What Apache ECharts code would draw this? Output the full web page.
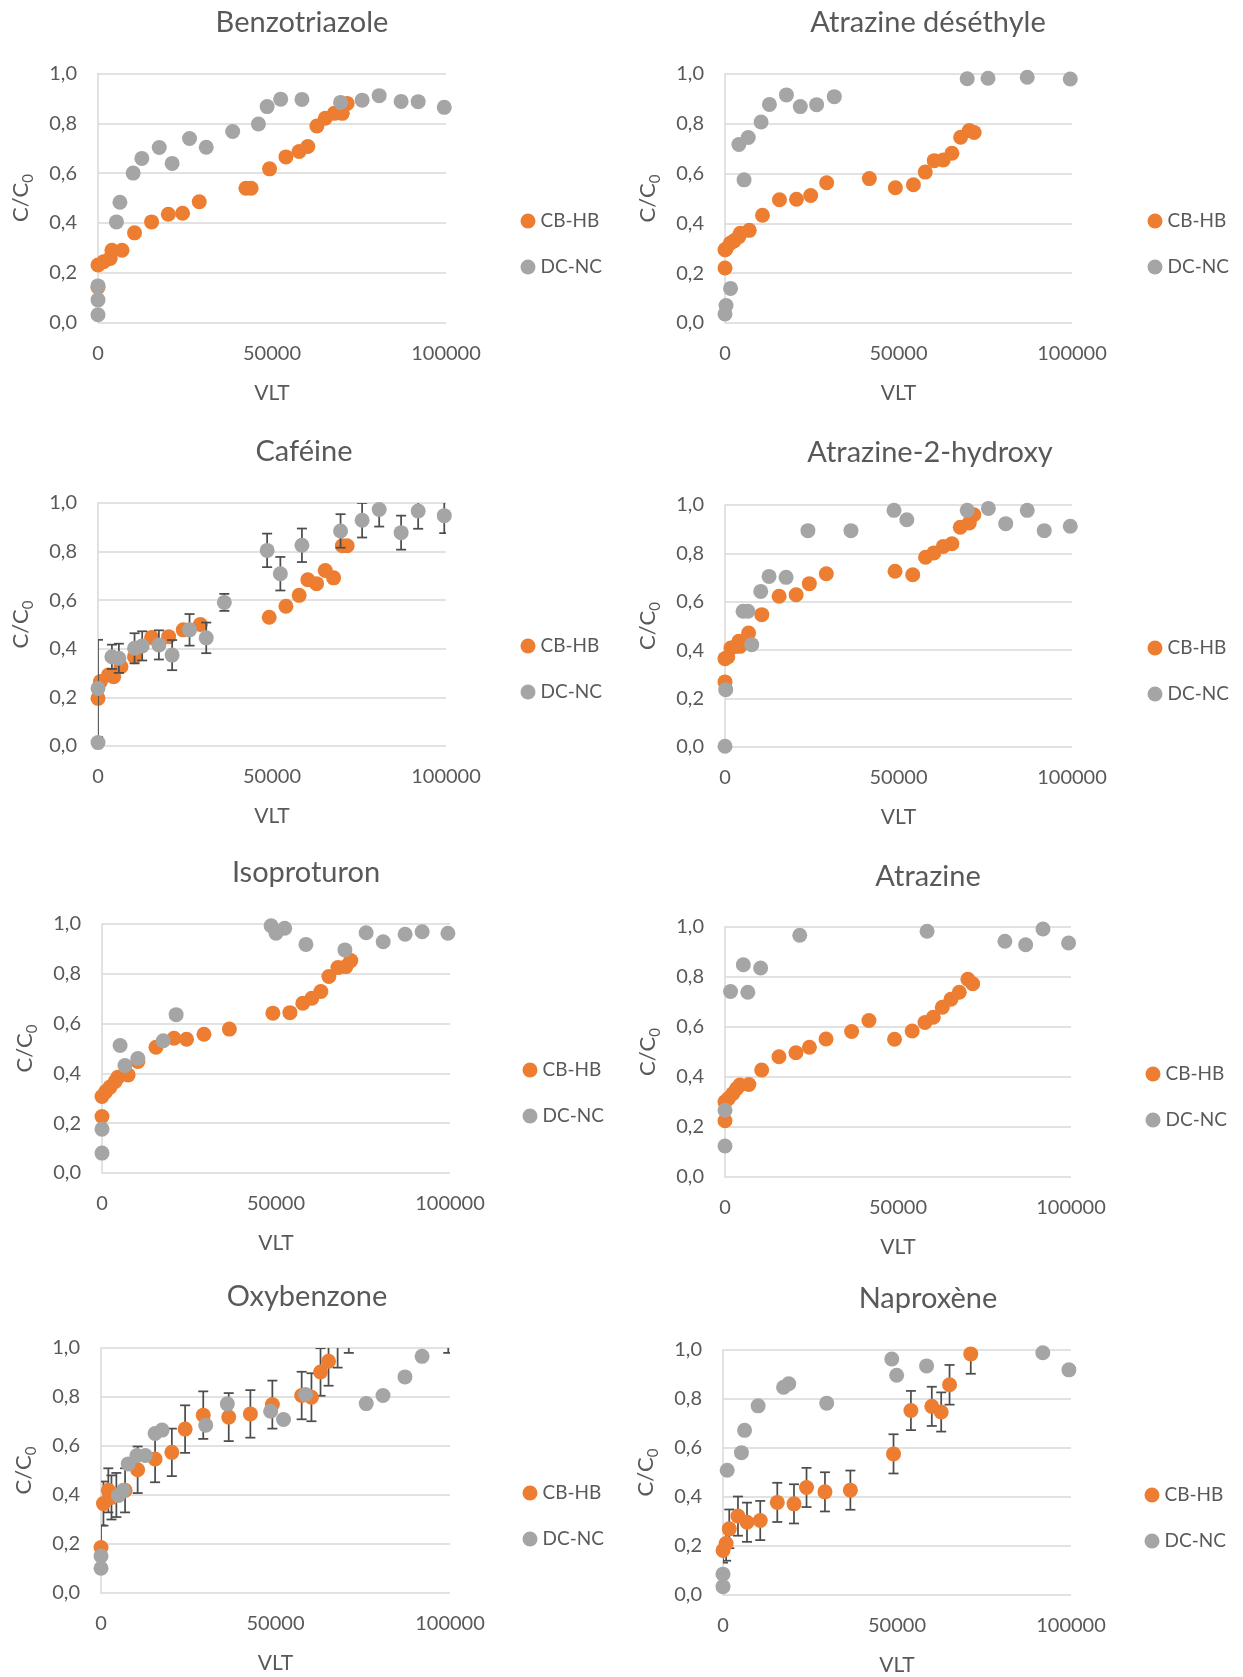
<!DOCTYPE html>
<html>
<head>
<meta charset="utf-8">
<script src="https://cdn.jsdelivr.net/npm/echarts@6/dist/echarts.min.js"></script>
<style>
    html, body {margin: 0; padding: 0; background: #fff;}
    #chart {width: 1243px; height: 1677px;}
</style>
</head>
<body>
<div id="chart"></div>
<script>
var titles = ['Benzotriazole', 'Atrazine déséthyle', 'Caféine', 'Atrazine-2-hydroxy',
    'Isoproturon', 'Atrazine', 'Oxybenzone', 'Naproxène'];
var seriesNames = ['CB-HB', 'DC-NC'];
var xTicks = [0, 50000, 100000];
var yTicks = [0, 0.2, 0.4, 0.6, 0.8, 1.0];

// [VLT, C/C0]
var benzotriazoleCB = [[0, 0.142], [0, 0.231], [1600, 0.244], [3500, 0.257], [4000, 0.29], [6900, 0.29],
    [10500, 0.36], [15400, 0.404], [20200, 0.435], [24300, 0.439], [29100, 0.485], [42500, 0.539],
    [44000, 0.539], [49300, 0.617], [54000, 0.665], [57800, 0.687], [60300, 0.707], [62900, 0.789],
    [65300, 0.82], [67900, 0.84], [70200, 0.84], [71600, 0.88]];
var benzotriazoleDC = [[0, 0.031], [0, 0.091], [0, 0.147], [5300, 0.404], [6300, 0.483], [10100, 0.60],
    [12600, 0.659], [17600, 0.703], [21300, 0.639], [26300, 0.739], [31100, 0.704], [38700, 0.767],
    [46100, 0.797], [48600, 0.867], [52500, 0.897], [58600, 0.896], [69700, 0.884], [75900, 0.893],
    [80800, 0.911], [87100, 0.888], [92000, 0.887], [99500, 0.864]];

var desethylCB = [[0, 0.221], [0, 0.294], [300, 0.297], [1500, 0.32], [2600, 0.33], [4000, 0.347],
    [4400, 0.36], [7000, 0.372], [10800, 0.433], [15700, 0.495], [20600, 0.497], [24700, 0.512],
    [29300, 0.563], [41600, 0.58], [49100, 0.543], [54300, 0.555], [57700, 0.606], [60300, 0.652],
    [62900, 0.655], [65400, 0.682], [67900, 0.746], [70400, 0.773], [71800, 0.765]];
var desethylDC = [[0, 0.036], [300, 0.07], [1600, 0.139], [4000, 0.717], [5500, 0.575], [6700, 0.745],
    [10400, 0.807], [12800, 0.878], [17700, 0.916], [21700, 0.869], [26400, 0.877], [31500, 0.909],
    [69800, 0.981], [75800, 0.983], [87100, 0.987], [99500, 0.98]];

var cafeineCB = [[0, 0.196], [700, 0.265], [3000, 0.292], [4500, 0.285], [6600, 0.326], [10500, 0.367],
    [15400, 0.447], [20300, 0.45], [24500, 0.478], [29400, 0.50], [49200, 0.53], [54000, 0.575],
    [57800, 0.62], [60300, 0.684], [62800, 0.668], [65300, 0.722], [67700, 0.692], [70200, 0.824],
    [71600, 0.824]];
// [VLT, C/C0, erreur]
var cafeineDC = [[0, 0.014, 0], [0, 0.237, 0.2], [4000, 0.367, 0.05], [6000, 0.361, 0.06],
    [10500, 0.402, 0.062], [12700, 0.412, 0.06], [17500, 0.416, 0.06], [21300, 0.374, 0.062],
    [26300, 0.478, 0.065], [31100, 0.445, 0.063], [36300, 0.591, 0.035], [48600, 0.805, 0.069],
    [52400, 0.709, 0.069], [58600, 0.826, 0.069], [69700, 0.885, 0.069], [75900, 0.929, 0.071],
    [80800, 0.973, 0.07], [87100, 0.878, 0.07], [92000, 0.967, 0.073], [99500, 0.948, 0.072]];

var hydroxyCB = [[0, 0.269], [0, 0.365], [800, 0.372], [1700, 0.409], [3100, 0.416], [4000, 0.437],
    [4300, 0.416], [6800, 0.471], [10600, 0.547], [15600, 0.623], [20500, 0.629], [24300, 0.675],
    [29200, 0.716], [49000, 0.726], [54100, 0.712], [57800, 0.784], [60200, 0.802], [62900, 0.829],
    [65400, 0.84], [67800, 0.908], [70400, 0.926], [71700, 0.96]];
var hydroxyDC = [[0, 0.003], [200, 0.237], [5200, 0.561], [6600, 0.561], [7700, 0.423], [10300, 0.643],
    [12700, 0.705], [17600, 0.701], [23900, 0.894], [36300, 0.894], [48700, 0.978], [52400, 0.939],
    [69800, 0.978], [75900, 0.986], [80900, 0.923], [87100, 0.978], [92000, 0.894], [99500, 0.912]];

var isoproturonCB = [[0, 0.227], [0, 0.307], [1100, 0.327], [2300, 0.345], [3800, 0.368], [4600, 0.385],
    [7500, 0.394], [10300, 0.448], [15500, 0.505], [20700, 0.541], [24300, 0.537], [29300, 0.557],
    [36600, 0.578], [49100, 0.642], [54000, 0.644], [57700, 0.682], [60300, 0.702], [62900, 0.729],
    [65200, 0.789], [67800, 0.825], [70100, 0.829], [71500, 0.853]];
var isoproturonDC = [[0, 0.08], [0, 0.176], [5200, 0.512], [6600, 0.432], [10300, 0.46], [17600, 0.531],
    [21300, 0.636], [48600, 0.993], [50000, 0.963], [52500, 0.983], [58600, 0.918], [69800, 0.896],
    [75900, 0.965], [80800, 0.929], [87100, 0.959], [92000, 0.969], [99400, 0.963]];

var atrazineCB = [[0, 0.225], [0, 0.301], [1000, 0.314], [2300, 0.334], [3400, 0.354], [4300, 0.368],
    [6900, 0.37], [10600, 0.428], [15600, 0.481], [20500, 0.497], [24400, 0.519], [29200, 0.552],
    [36600, 0.582], [41600, 0.626], [49000, 0.551], [54100, 0.584], [57800, 0.618], [60200, 0.639],
    [62800, 0.679], [65300, 0.711], [67700, 0.739], [70200, 0.791], [71600, 0.773]];
var atrazineDC = [[0, 0.124], [0, 0.267], [1600, 0.742], [5300, 0.849], [6600, 0.739], [10300, 0.836],
    [21600, 0.967], [58400, 0.983], [80900, 0.943], [86900, 0.929], [91900, 0.992], [99300, 0.936]];

var oxybenzoneCB = [[0, 0.186, 0.09], [700, 0.365, 0.09], [2100, 0.419, 0.09], [3000, 0.39, 0.09],
    [4400, 0.40, 0.09], [6900, 0.419, 0.09], [10500, 0.503, 0.095], [15500, 0.547, 0.095],
    [20300, 0.574, 0.097], [24100, 0.669, 0.097], [29300, 0.726, 0.097], [36600, 0.718, 0.098],
    [42800, 0.731, 0.097], [49100, 0.769, 0.098], [57500, 0.806, 0.097], [60300, 0.799, 0.098],
    [62900, 0.902, 0.097], [65200, 0.946, 0.1], [67800, 1.02, 0.1], [71000, 1.08, 0.1]];
var oxybenzoneDC = [[0, 0.101, 0], [0, 0.151, 0], [5000, 0.398, 0], [6400, 0.419, 0], [7800, 0.527, 0],
    [10300, 0.561, 0], [12700, 0.561, 0], [15500, 0.651, 0], [17500, 0.665, 0], [30000, 0.685, 0],
    [36200, 0.772, 0], [48600, 0.742, 0], [52300, 0.708, 0], [58600, 0.81, 0], [76000, 0.773, 0],
    [80800, 0.806, 0], [87100, 0.882, 0], [92000, 0.966, 0], [99500, 1.05, 0.07]];

var naproxeneCB = [[0, 0.182, 0.05], [900, 0.21, 0.07], [1800, 0.27, 0.079], [4300, 0.322, 0.08],
    [6900, 0.297, 0.08], [10700, 0.304, 0.08], [15600, 0.378, 0.08], [20400, 0.372, 0.08],
    [24000, 0.439, 0.08], [29300, 0.421, 0.08], [36600, 0.428, 0.08], [49000, 0.576, 0.08],
    [54000, 0.753, 0.08], [60000, 0.77, 0.08], [62700, 0.747, 0.08], [65100, 0.858, 0.081],
    [71200, 0.984, 0.081]];
var naproxeneDC = [[0, 0.034], [0, 0.085], [1200, 0.509], [5300, 0.581], [6200, 0.672], [10100, 0.772],
    [17400, 0.848], [18900, 0.862], [29800, 0.783], [48500, 0.963], [49900, 0.897], [58500, 0.935],
    [91900, 0.989], [99400, 0.919]];

var colors = ['#ED7D31', '#A5A5A5'];
var textColor = '#595959';
var gridColor = '#D9D9D9';
var font = 'Lato';

// position de chaque graphique (px) : zone de tracé, titre, légende
var panels = [
    {title: titles[0], cb: benzotriazoleCB, dc: benzotriazoleDC, box: [98, 73.5, 348, 249], t: [302, 23], lg: [528, 221]},
    {title: titles[1], cb: desethylCB, dc: desethylDC, box: [725, 74, 347, 249], t: [928, 23], lg: [1155, 221]},
    {title: titles[2], cb: cafeineCB, dc: cafeineDC, box: [98, 503, 348, 243], t: [304, 452], lg: [528, 646]},
    {title: titles[3], cb: hydroxyCB, dc: hydroxyDC, box: [725, 505, 347, 242], t: [930, 453], lg: [1155, 648]},
    {title: titles[4], cb: isoproturonCB, dc: isoproturonDC, box: [102, 924, 348, 249], t: [306, 873], lg: [530, 1070]},
    {title: titles[5], cb: atrazineCB, dc: atrazineDC, box: [725, 927, 346, 250], t: [928, 877], lg: [1153, 1074]},
    {title: titles[6], cb: oxybenzoneCB, dc: oxybenzoneDC, box: [101, 1348, 349, 245], t: [307, 1297], lg: [530, 1493]},
    {title: titles[7], cb: naproxeneCB, dc: naproxeneDC, box: [723, 1350, 348, 245], t: [928, 1299], lg: [1152, 1495]}
];

function hasErrors(points) {
    for (var k = 0; k < points.length; k++) {
        if (points[k].length > 2 && points[k][2] > 0) return true;
    }
    return false;
}

function errorBars(points, idx, z) {
    var data = [];
    points.forEach(function (p) {
        if (p[2] > 0) data.push([p[0], p[1] - p[2], p[1] + p[2]]);
    });
    return {
        type: 'custom',
        xAxisIndex: idx,
        yAxisIndex: idx,
        clip: true,
        silent: true,
        z: z,
        data: data,
        encode: {x: 0, y: [1, 2]},
        renderItem: function (params, api) {
            var lo = api.coord([api.value(0), api.value(1)]);
            var hi = api.coord([api.value(0), api.value(2)]);
            var w = 5;
            var st = {stroke: '#4D4D4D', lineWidth: 1.75};
            return {
                type: 'group',
                children: [
                    {type: 'line', shape: {x1: lo[0], y1: lo[1], x2: hi[0], y2: hi[1]}, style: st},
                    {type: 'line', shape: {x1: lo[0] - w, y1: lo[1], x2: lo[0] + w, y2: lo[1]}, style: st},
                    {type: 'line', shape: {x1: hi[0] - w, y1: hi[1], x2: hi[0] + w, y2: hi[1]}, style: st}
                ]
            };
        }
    };
}

var option = {
    backgroundColor: '#ffffff',
    animation: false,
    textStyle: {fontFamily: font},
    graphic: [],
    legend: [],
    grid: [],
    xAxis: [],
    yAxis: [],
    series: []
};

panels.forEach(function (p, i) {
    option.graphic.push({
        type: 'text',
        x: p.t[0],
        y: p.t[1],
        style: {text: p.title, font: '29px ' + font, fill: textColor, align: 'center', verticalAlign: 'middle'}
    });
    option.grid.push({left: p.box[0], top: p.box[1], width: p.box[2], height: p.box[3]});
    option.xAxis.push({
        gridIndex: i,
        type: 'value',
        min: xTicks[0],
        max: xTicks[xTicks.length - 1],
        interval: xTicks[1] - xTicks[0],
        axisLine: {show: false},
        axisTick: {show: false},
        splitLine: {show: false},
        axisLabel: {
            fontSize: 20, color: textColor, margin: 21, fontFamily: font,
            formatter: function (v) { return String(v); }
        },
        name: 'VLT',
        nameLocation: 'middle',
        nameGap: 60,
        nameTextStyle: {fontSize: 21, color: textColor, fontFamily: font}
    });
    option.yAxis.push({
        gridIndex: i,
        type: 'value',
        min: yTicks[0],
        max: yTicks[yTicks.length - 1],
        interval: yTicks[1] - yTicks[0],
        axisLine: {show: true, lineStyle: {color: gridColor, width: 1.5}},
        axisTick: {show: false},
        splitLine: {show: true, lineStyle: {color: gridColor, width: 1.5}},
        axisLabel: {
            fontSize: 20, color: textColor, margin: 21, fontFamily: font,
            formatter: function (v) { return v.toFixed(1).replace('.', ','); }
        },
        name: 'C/C{s|0}',
        nameLocation: 'middle',
        nameGap: 62,
        nameTextStyle: {
            fontSize: 22, color: textColor, fontFamily: font, lineHeight: 30,
            rich: {s: {fontSize: 15, color: textColor, fontFamily: font, verticalAlign: 'bottom', lineHeight: 15}}
        }
    });
    option.legend.push({
        orient: 'vertical',
        left: p.lg[0] - 7.5,
        top: p.lg[1] - 10,
        padding: 0,
        itemWidth: 15,
        itemHeight: 15,
        itemGap: 26,
        icon: 'circle',
        data: seriesNames,
        textStyle: {fontSize: 19, color: textColor, fontFamily: font, lineHeight: 20}
    });

    var sets = [p.cb, p.dc];
    sets.forEach(function (pts, s) {
        if (hasErrors(pts)) option.series.push(errorBars(pts, i, 1 + s * 2));
        option.series.push({
            name: seriesNames[s],
            type: 'scatter',
            xAxisIndex: i,
            yAxisIndex: i,
            symbol: 'circle',
            symbolSize: 15,
            z: 2 + s * 2,
            itemStyle: {color: colors[s], opacity: 1},
            data: pts.map(function (d) { return [d[0], d[1]]; })
        });
    });
});

var myChart = echarts.init(document.getElementById('chart'));
myChart.setOption(option);
</script>
</body>
</html>
